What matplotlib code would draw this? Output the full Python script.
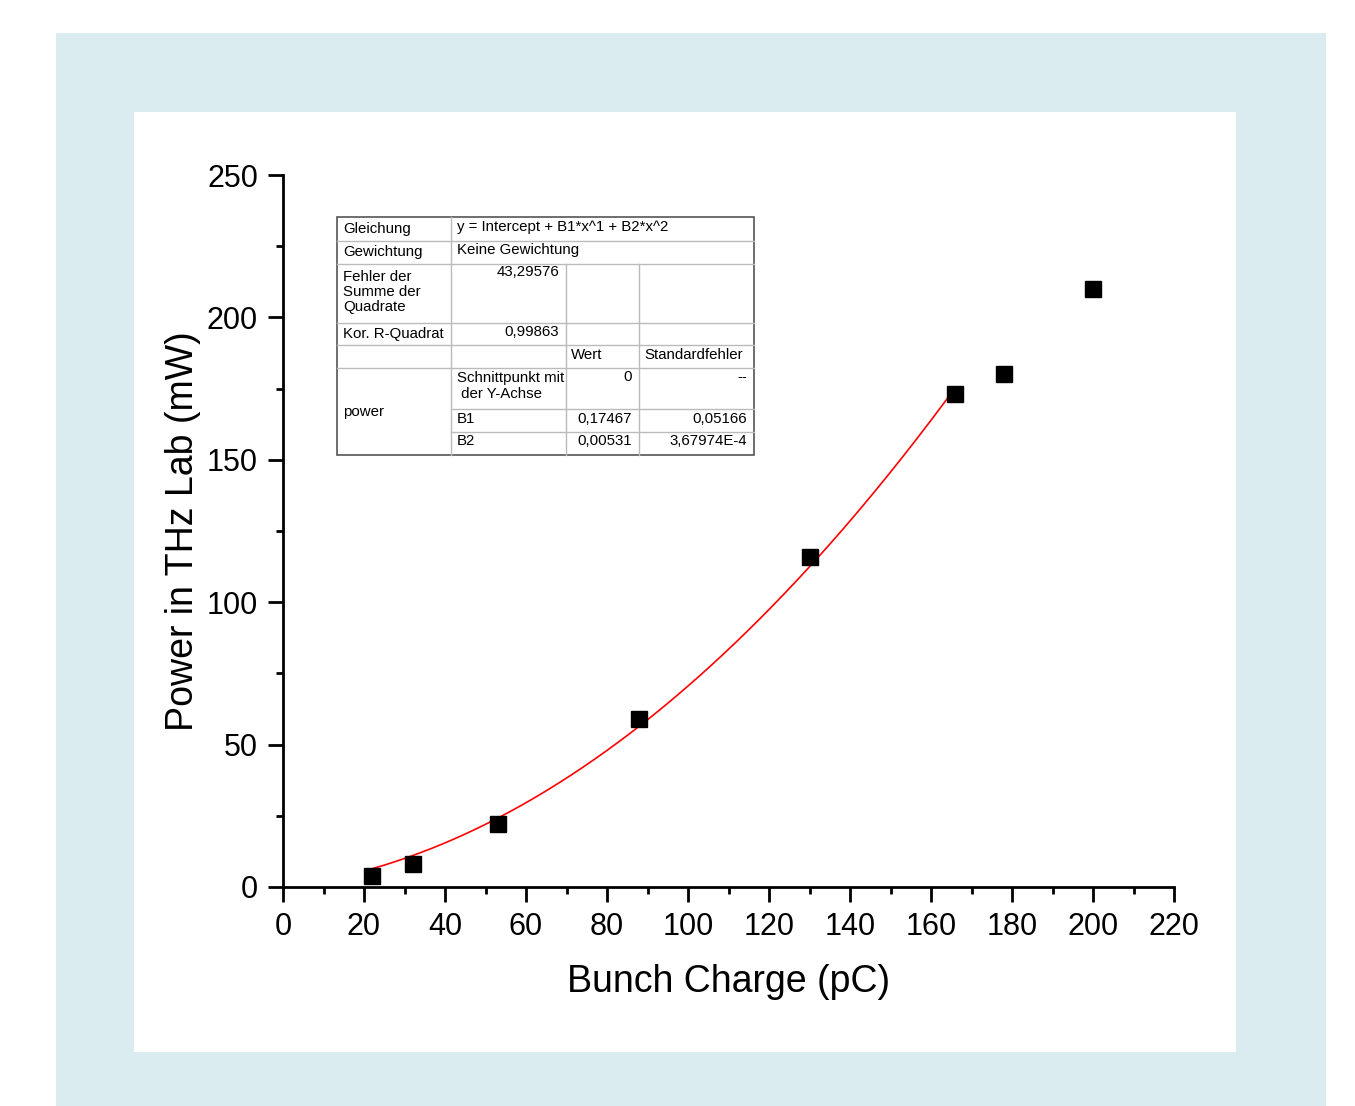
import numpy as np
import matplotlib
matplotlib.use('Agg')
import matplotlib.pyplot as plt
from matplotlib.transforms import Affine2D
from matplotlib.lines import Line2D
from matplotlib.patches import Rectangle
from matplotlib.ticker import MultipleLocator

plt.rcParams['font.family'] = ['Liberation Sans', 'DejaVu Sans']

# measured data
charge = [22, 32, 53, 88, 130, 166, 178, 200]
power = [4, 8, 22, 59, 116, 173, 180, 210]

# fit result (Origin, quadratic, intercept fixed at 0)
intercept = 0.0
b1 = 0.17467
b2 = 0.00531
fit_range = [22, 166]

x_ticks = [0, 20, 40, 60, 80, 100, 120, 140, 160, 180, 200, 220]
y_ticks = [0, 50, 100, 150, 200, 250]

W, H = 1355, 1106
fig = plt.figure(figsize=(W / 100, H / 100), dpi=100)
fig.patch.set_facecolor('white')

# pixel coordinates, origin top-left
pix = Affine2D().scale(1.0 / W, -1.0 / H).translate(0, 1) + fig.transFigure

fig.add_artist(Rectangle((56, 33), 1270, 1073, transform=pix,
                         facecolor='#daecf0', edgecolor='none', zorder=-10))
fig.add_artist(Rectangle((134, 112), 1102, 940, transform=pix,
                         facecolor='white', edgecolor='none', zorder=-9))

ax = fig.add_axes([283 / W, 1 - 887 / H, (1174 - 283) / W, (887 - 175) / H])
ax.patch.set_alpha(0)

xs = np.linspace(fit_range[0], fit_range[1], 200)
ax.plot(xs, intercept + b1 * xs + b2 * xs ** 2, color='red', lw=1.2, zorder=2)
ax.plot(charge, power, 's', color='black', markersize=11.5, clip_on=False, zorder=3)

ax.set_xlim(0, 220)
ax.set_ylim(0, 250)
ax.set_xticks(x_ticks)
ax.set_yticks(y_ticks)
ax.xaxis.set_minor_locator(MultipleLocator(10))
ax.yaxis.set_minor_locator(MultipleLocator(25))
for s in ['top', 'right']:
    ax.spines[s].set_visible(False)
for s in ['left', 'bottom']:
    ax.spines[s].set_linewidth(2)
ax.tick_params(which='major', length=11, width=2, labelsize=22, pad=7)
ax.tick_params(which='minor', length=5, width=2)
ax.tick_params(axis='y', pad=7)

ax.set_xlabel('Bunch Charge (pC)', fontsize=27, labelpad=16)
ax.set_ylabel('Power in THz Lab (mW)', fontsize=27, labelpad=4)

# fit result table
cols = [337, 451, 566, 639, 754]
rows = [217, 241, 264, 323, 345, 368, 409, 432, 455]
inner = '#bbbbbb'


def hline(y, x0, x1, c=inner):
    fig.add_artist(Line2D([x0, x1], [y, y], transform=pix, color=c, lw=1))


def vline(x, y0, y1, c=inner):
    fig.add_artist(Line2D([x, x], [y0, y1], transform=pix, color=c, lw=1))


for y in rows[1:6]:
    hline(y, cols[0], cols[4])
for y in rows[6:8]:
    hline(y, cols[1], cols[4])
vline(cols[1], rows[0], rows[8])
vline(cols[2], rows[2], rows[8])
vline(cols[3], rows[2], rows[8])
fig.add_artist(Rectangle((cols[0], rows[0]), cols[4] - cols[0], rows[8] - rows[0],
                         transform=pix, facecolor='none', edgecolor='#555555', lw=1.2))


def cell(x, y, s, ha='left'):
    fig.text(x, y, s, transform=pix, fontsize=10.8, ha=ha, va='center',
             linespacing=1.12)


cell(343, 229, 'Gleichung')
cell(457, 227, 'y = Intercept + B1*x^1 + B2*x^2')
cell(343, 252, 'Gewichtung')
cell(457, 250, 'Keine Gewichtung')
cell(343, 292, 'Fehler der\nSumme der\nQuadrate')
cell(559, 272, '43,29576', ha='right')
cell(343, 334, 'Kor. R-Quadrat')
cell(559, 332, '0,99863', ha='right')
cell(571, 355, 'Wert')
cell(644, 355, 'Standardfehler')
cell(343, 412, 'power')
cell(457, 386, 'Schnittpunkt mit\n der Y-Achse')
cell(632, 377, '0', ha='right')
cell(747, 377, '--', ha='right')
cell(457, 419, 'B1')
cell(632, 419, '0,17467', ha='right')
cell(747, 419, '0,05166', ha='right')
cell(457, 441, 'B2')
cell(632, 441, '0,00531', ha='right')
cell(747, 441, '3,67974E-4', ha='right')

fig.savefig('out.png', dpi=100)
